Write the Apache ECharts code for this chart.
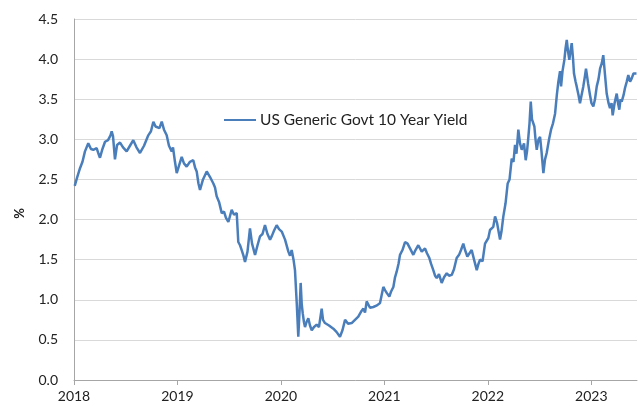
<!DOCTYPE html>
<html>
<head>
<meta charset="utf-8">
<script src="https://cdn.jsdelivr.net/npm/echarts@6/dist/echarts.min.js"></script>
<style>
  html, body { margin: 0; padding: 0; background: #fff; }
  #chart { width: 638px; height: 408px; }
</style>
</head>
<body>
<div id="chart"></div>
<script>
// decimal years
const dates = [
  2018.007, 2018.029, 2018.058, 2018.082, 2018.106, 2018.138, 2018.164, 2018.187, 2018.219, 2018.237,
  2018.251, 2018.275, 2018.300, 2018.329, 2018.353, 2018.364, 2018.377, 2018.396, 2018.416, 2018.445,
  2018.474, 2018.509, 2018.541, 2018.573, 2018.604, 2018.638, 2018.677, 2018.718, 2018.744, 2018.767,
  2018.788, 2018.805, 2018.826, 2018.848, 2018.870, 2018.896, 2018.918, 2018.944, 2018.957, 2018.976,
  2018.993, 2019.008, 2019.041, 2019.063, 2019.089, 2019.121, 2019.153, 2019.170, 2019.186, 2019.203,
  2019.218, 2019.247, 2019.283, 2019.315, 2019.347, 2019.363, 2019.379, 2019.402, 2019.428, 2019.450,
  2019.469, 2019.492, 2019.524, 2019.547, 2019.573, 2019.588, 2019.605, 2019.621, 2019.638, 2019.653,
  2019.677, 2019.701, 2019.721, 2019.750, 2019.774, 2019.798, 2019.822, 2019.846, 2019.870, 2019.895,
  2019.914, 2019.933, 2019.959, 2019.982, 2020.008, 2020.023, 2020.040, 2020.072, 2020.088, 2020.104,
  2020.122, 2020.136, 2020.153, 2020.168, 2020.180, 2020.191, 2020.201, 2020.211, 2020.223, 2020.233,
  2020.247, 2020.265, 2020.281, 2020.298, 2020.320, 2020.346, 2020.368, 2020.394, 2020.407, 2020.426,
  2020.465, 2020.507, 2020.537, 2020.571, 2020.595, 2020.620, 2020.649, 2020.684, 2020.716, 2020.748,
  2020.774, 2020.797, 2020.813, 2020.829, 2020.861, 2020.893, 2020.929, 2020.958, 2020.990, 2021.006,
  2021.026, 2021.048, 2021.064, 2021.087, 2021.103, 2021.119, 2021.137, 2021.151, 2021.175, 2021.200,
  2021.224, 2021.248, 2021.280, 2021.301, 2021.328, 2021.361, 2021.393, 2021.412, 2021.435, 2021.451,
  2021.473, 2021.490, 2021.506, 2021.528, 2021.554, 2021.577, 2021.603, 2021.625, 2021.651, 2021.673,
  2021.699, 2021.722, 2021.741, 2021.763, 2021.780, 2021.802, 2021.823, 2021.844, 2021.867, 2021.893,
  2021.910, 2021.925, 2021.949, 2021.973, 2021.987, 2022.005, 2022.021, 2022.053, 2022.070, 2022.089,
  2022.108, 2022.118, 2022.132, 2022.150, 2022.171, 2022.192, 2022.210, 2022.231, 2022.248, 2022.263,
  2022.277, 2022.295, 2022.311, 2022.328, 2022.350, 2022.366, 2022.379, 2022.392, 2022.403, 2022.415,
  2022.427, 2022.450, 2022.461, 2022.473, 2022.490, 2022.505, 2022.519, 2022.537, 2022.553, 2022.569,
  2022.592, 2022.611, 2022.630, 2022.650, 2022.667, 2022.682, 2022.698, 2022.708, 2022.722, 2022.740,
  2022.751, 2022.763, 2022.775, 2022.788, 2022.799, 2022.811, 2022.824, 2022.833, 2022.848, 2022.859,
  2022.877, 2022.891, 2022.906, 2022.923, 2022.938, 2022.949, 2022.969, 2022.988, 2023.002, 2023.020,
  2023.036, 2023.053, 2023.070, 2023.085, 2023.102, 2023.116, 2023.133, 2023.149, 2023.167, 2023.181,
  2023.196, 2023.207, 2023.225, 2023.246, 2023.259, 2023.271, 2023.283, 2023.294, 2023.312, 2023.326,
  2023.343, 2023.358, 2023.375, 2023.391, 2023.408, 2023.423, 2023.437
];

// US Generic Govt 10 Year Yield, %
const yields = [
  2.42, 2.52, 2.64, 2.72, 2.85, 2.95, 2.88, 2.87, 2.89, 2.82,
  2.77, 2.88, 2.97, 2.99, 3.05, 3.10, 3.04, 2.75, 2.93, 2.96,
  2.90, 2.85, 2.92, 2.99, 2.90, 2.83, 2.92, 3.05, 3.10, 3.22,
  3.16, 3.18, 3.14, 3.22, 3.12, 3.05, 2.92, 2.85, 2.90, 2.72,
  2.58, 2.60, 2.78, 2.70, 2.66, 2.72, 2.74, 2.65, 2.60, 2.45,
  2.37, 2.50, 2.60, 2.53, 2.45, 2.40, 2.29, 2.22, 2.08, 2.10,
  2.02, 1.97, 2.12, 2.06, 2.08, 1.72, 1.68, 1.62, 1.55, 1.47,
  1.60, 1.89, 1.70, 1.56, 1.68, 1.79, 1.82, 1.93, 1.82, 1.75,
  1.80, 1.86, 1.93, 1.88, 1.85, 1.83, 1.75, 1.60, 1.55, 1.62,
  1.50, 1.37, 0.96, 0.54, 0.85, 1.21, 0.95, 0.83, 0.72, 0.66,
  0.72, 0.77, 0.68, 0.62, 0.66, 0.69, 0.66, 0.89, 0.75, 0.71,
  0.68, 0.64, 0.60, 0.54, 0.62, 0.75, 0.70, 0.71, 0.75, 0.79,
  0.85, 0.89, 0.84, 0.98, 0.90, 0.91, 0.93, 0.96, 1.16, 1.12,
  1.08, 1.04, 1.10, 1.16, 1.28, 1.35, 1.45, 1.56, 1.62, 1.72,
  1.70, 1.64, 1.56, 1.62, 1.68, 1.60, 1.64, 1.58, 1.52, 1.45,
  1.37, 1.30, 1.27, 1.32, 1.21, 1.28, 1.33, 1.30, 1.31, 1.38,
  1.52, 1.56, 1.62, 1.70, 1.62, 1.54, 1.58, 1.62, 1.50, 1.37,
  1.45, 1.50, 1.48, 1.70, 1.72, 1.77, 1.87, 1.91, 2.04, 1.96,
  1.95, 1.75, 1.85, 2.04, 2.20, 2.45, 2.50, 2.76, 2.72, 2.93,
  2.82, 3.12, 2.95, 2.87, 2.95, 2.74, 2.85, 3.03, 3.20, 3.47,
  3.25, 3.16, 3.00, 2.87, 3.00, 3.03, 2.85, 2.58, 2.75, 2.83,
  3.00, 3.12, 3.20, 3.32, 3.55, 3.72, 3.85, 3.66, 3.85, 3.99,
  4.13, 4.24, 4.10, 3.99, 4.10, 4.20, 4.00, 3.82, 3.72, 3.66,
  3.55, 3.45, 3.55, 3.66, 3.78, 3.88, 3.70, 3.55, 3.45, 3.41,
  3.50, 3.66, 3.75, 3.88, 3.95, 4.05, 3.80, 3.57, 3.45, 3.39,
  3.45, 3.30, 3.45, 3.57, 3.45, 3.37, 3.50, 3.47, 3.55, 3.64,
  3.72, 3.80, 3.72, 3.76, 3.82, 3.80, 3.82
];

const yearTicks = [2018, 2019, 2020, 2021, 2022, 2023];
const seriesName = 'US Generic Govt 10 Year Yield';

const chart = echarts.init(document.getElementById('chart'));
const font = 'Lato, "Open Sans", sans-serif';

chart.setOption({
  animation: false,
  backgroundColor: '#fff',
  grid: { left: 74, right: 1, top: 19, bottom: 28 },
  legend: {
    left: 219,
    top: 107,
    itemWidth: 32,
    itemHeight: 16,
    itemGap: 6,
    textStyle: { fontFamily: font, fontSize: 15.5, color: '#222', padding: [0, 0, 0, -1] },
    data: [{ name: seriesName, icon: 'path://M0,7 L32,7 L32,9 L0,9 Z' }]
  },
  xAxis: {
    type: 'value',
    min: 2018,
    max: 2023.442,
    axisLine: { show: true, lineStyle: { color: '#a6a6a6', width: 1 } },
    axisTick: { show: true, length: 5, lineStyle: { color: '#a6a6a6' }, customValues: yearTicks },
    axisLabel: {
      customValues: yearTicks,
      fontFamily: font, fontSize: 14, color: '#222', margin: 9,
      formatter: v => String(Math.round(v))
    },
    splitLine: { show: false }
  },
  yAxis: {
    type: 'value',
    min: 0,
    max: 4.5,
    interval: 0.5,
    name: '%',
    nameLocation: 'middle',
    nameGap: 48,
    nameRotate: 90,
    nameTextStyle: {
      fontFamily: font, fontSize: 13, fontWeight: 'bold', color: '#222',
      padding: [0, 28, 0, 0]
    },
    axisLine: { show: true, lineStyle: { color: '#a6a6a6', width: 1 } },
    axisTick: { show: false },
    axisLabel: {
      fontFamily: font, fontSize: 14, color: '#222', margin: 16,
      formatter: v => v.toFixed(1)
    },
    splitLine: { show: true, lineStyle: { color: '#d9d9d9', width: 1 } }
  },
  series: [{
    name: seriesName,
    type: 'line',
    data: dates.map((d, i) => [d, yields[i]]),
    symbol: 'none',
    lineStyle: { color: '#4a7ebb', width: 2.5 },
    itemStyle: { color: '#4a7ebb' }
  }]
});
</script>
</body>
</html>
